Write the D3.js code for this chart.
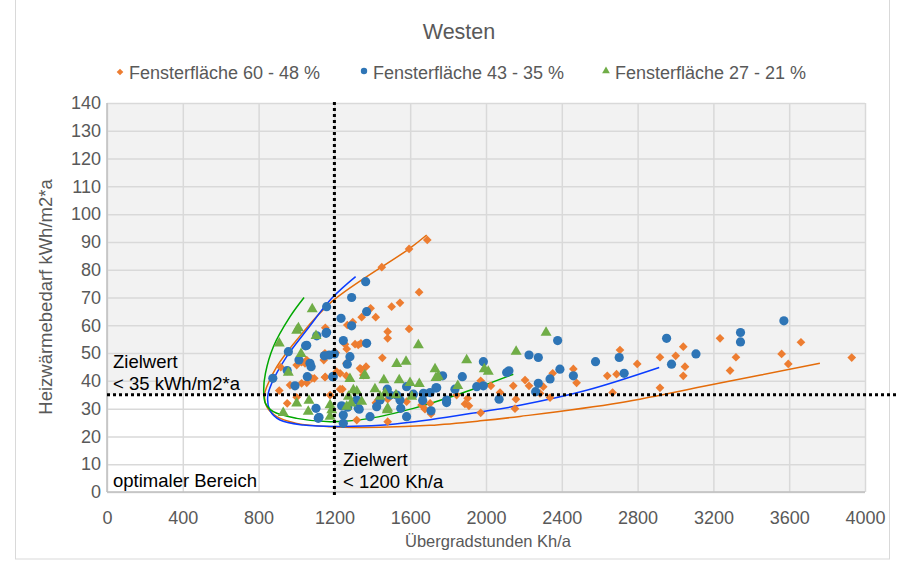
<!DOCTYPE html>
<html>
<head>
<meta charset="utf-8">
<script src="https://d3js.org/d3.v7.min.js"></script>
<title>Westen</title>
<style>
body { margin: 0; background: #fff; }
svg { display: block; font-family: "Liberation Sans", Arial, sans-serif; }
</style>
</head>
<body>
<svg width="903" height="566"></svg>
<script>

// Fensterfläche 60 - 48 %  [Übergradstunden, Heizwärmebedarf]
let orangeData = [
  [1690,90.7],[1594,87.5],[1450,80.9],[1647,71.9],[1502,66.7],[1546,68.1],[1391,66.1],
  [1418,62.9],[1344,62.9],[1297,61.1],[1268,60.1],[1152,59.1],[1481,57.7],[1481,55.3],
  [1594,58.7],[1326,52.9],[1340,53.5],[1265,51.5],[1207,50.1],[1144,47.5],[1453,48.3],
  [1340,44.2],[1367,45.1],[1263,41.8],[1152,41.4],[1054,47.5],[1078,45.1],[1001,45.7],
  [1027,46.7],[1080,40.9],[917,44.9],[966,38.5],[1027,39.1],[1054,39.3],[909,36.5],
  [1001,34.1],[951,31.9],[1177,34.9],[1242,37],[1419,32.1],[1431,33.1],[1481,33.4],
  [1318,25.9],[1481,25.3],[1705,31.9],[1903,33.7],[1889,31.7],[1094,40.9],[1150,41.3],
  [1212,43.3],[1230,42.7],[1150,49.9],[1256,53.2],[1309,53.2],[1263,46.3],[1045,46.3],
  [1335,44.5],[1353,42.1],[1230,37],[1423,31.9],[1581,32.5],[1678,29.8],[1660,31.3],
  [1845,34.9],[1910,31],[2707,51.1],[2798,46.1],[2918,48.5],[3001,49],[3041,52.3],
  [3050,45.1],[3041,41.8],[2918,37.5],[3235,55.3],[3319,48.5],[3288,43.7],[3560,49.7],
  [3595,46.1],[3662,53.9],[3930,48.4],[2689,42.4],[2640,41.8],[2668,35.8],[2461,44.3],
  [2478,39.3],[2352,42.7],[2338,34],[2302,37.9],[2227,38.2],[2206,40.3],[2285,35.5],
  [2158,33.4],[2153,30],[2144,38.2],[2074,35.8],[2026,38.2],[1972,40],[1972,28.5],
  [1710,28.1]
];

// Fensterfläche 43 - 35 %
let blueData = [
  [1365,75.7],[1291,70],[1370,64.9],[1159,66.7],[1235,62.5],[1291,59.8],[1159,57.5],
  [1247,54.5],[1370,53.5],[1054,52.8],[1107,56.2],[1147,49],[1172,49.3],[1282,48.7],
  [1268,46],[1013,47.5],[1071,46.3],[1077,45.1],[957,50.5],[951,43.7],[875,40.9],
  [1057,41.5],[992,38.2],[1194,41.5],[1479,37],[1493,34.9],[1529,34.9],[1546,33.1],
  [1581,37.9],[1617,35.2],[1670,35.5],[1705,35.8],[1666,32.9],[1740,37.5],[1771,41.8],
  [1792,33.1],[1875,41.5],[1951,37.9],[1441,33.1],[1423,30.7],[1326,30.1],[1238,31],
  [1247,27.7],[1318,33.1],[1388,27.1],[1550,30.1],[1581,27.1],[1247,24.7],[1115,26.5],
  [1103,30.1],[1048,52.6],[1156,57.1],[1200,49.7],[1191,41.5],[1119,26.9],[1270,30.5],
  [1331,29.8],[3572,61.6],[3343,57.4],[3343,54],[2953,55.3],[3108,49.7],[2979,46],
  [2703,48.4],[2729,42.7],[2578,46.9],[2378,54.5],[2390,44.2],[2461,41.8],[2338,40.7],
  [2276,48.4],[2227,49.3],[2276,39.1],[2262,36.1],[2121,43.6],[2109,43],[2069,33.4],
  [1986,46.9],[1986,38.2],[1792,32.2],[1736,37.5],[1710,29.2],[1836,37]
];

// Fensterfläche 27 - 21 %
let greenData = [
  [1083,65.8],[1001,58.1],[1010,59],[1103,56.2],[909,53.5],[1024,49.7],[957,43],
  [1643,52.9],[1529,46.1],[1578,46.9],[1358,41.8],[1282,40.7],[1461,40.3],[1542,40.3],
  [1599,39.3],[1648,38.9],[1731,44.2],[1748,41.5],[1898,47.5],[1851,38.2],[1414,37],
  [1300,36.7],[1318,36.2],[1274,34.3],[1288,31.9],[1265,30.7],[1344,32.5],[1177,31.3],
  [1186,29.5],[1066,32.9],[1062,28.9],[1001,31.9],[930,28.5],[1441,34.3],[1467,35.5],
  [1608,34.3],[1479,29.5],[2317,57.4],[2159,50.5],[1991,44.2],[2012,43.3],[1736,41.1],
  [1525,34.9],[1481,30.1],[1177,27.1],[1361,42.1]
];

// hand drawn trend curves
let orangeTrend = [
  [1687,92.5],[1594,87.5],[1186,68.5],[1001,54.7],[896,45.1],[843,37.9],[831,34.9],
  [843,30.7],[896,27.1],[1001,24.7],[1177,23.5],[1441,23.3],[1705,24.0],[1969,25.6],
  [2179,27.2],[2707,32.1],[3235,39.2],[3762,46.3]
];
let blueTrend = [
  [1312,77.5],[1186,69.7],[1054,58.3],[948,48.7],[869,39.1],[848,34.3],[859,29.5],
  [913,25.9],[1036,24.1],[1230,23.6],[1441,24.0],[1705,26.0],[1969,28.8],[2179,31.2],
  [2531,36.6],[2914,44.8]
];
let greenTrend = [
  [1040,70],[966,63.1],[878,52.3],[836,42.7],[827,36.7],[836,31.9],[878,28.9],
  [1001,26.5],[1177,25.3],[1388,26.5],[1617,30.1],[1845,34.9],[1969,37.9],[2144,42.4]
];

let xTicks = d3.range(0, 4001, 400);
let yTicks = d3.range(0, 141, 10);
let legendNames = ["Fensterfläche 60 - 48 %", "Fensterfläche 43 - 35 %", "Fensterfläche 27 - 21 %"];

let zielX = 1200;
let zielY = 35;

let svg = d3.select("svg");
let grey = "#595959";

// outer frame of the chart
svg.append("rect")
  .attr("x", 15.5).attr("y", -2).attr("width", 874).attr("height", 561)
  .attr("fill", "none").attr("stroke", "#d9d9d9");

let x = d3.scaleLinear().domain([0, 4000]).range([107, 865]);
let y = d3.scaleLinear().domain([0, 140]).range([492, 103]);

// plot background, white in the optimal corner
svg.append("rect")
  .attr("x", x(0)).attr("y", y(140))
  .attr("width", x(4000) - x(0)).attr("height", y(0) - y(140))
  .attr("fill", "#f2f2f2");
svg.append("rect")
  .attr("x", x(0)).attr("y", y(zielY))
  .attr("width", x(zielX) - x(0)).attr("height", y(0) - y(zielY))
  .attr("fill", "#ffffff");

// gridlines
let xGrid = svg.append("g").attr("transform", "translate(0," + y(0) + ")")
  .call(d3.axisBottom(x).tickValues(xTicks).tickSize(-(y(0) - y(140))).tickFormat(""));
let yGrid = svg.append("g").attr("transform", "translate(" + x(0) + ",0)")
  .call(d3.axisLeft(y).tickValues(yTicks).tickSize(-(x(4000) - x(0))).tickFormat(""));
[xGrid, yGrid].forEach(function(g){
  g.select(".domain").remove();
  g.selectAll("line").attr("stroke", "#d9d9d9").attr("stroke-width", 1.5);
});

// axis lines
svg.append("line").attr("x1", x(0)).attr("x2", x(0)).attr("y1", y(140)).attr("y2", y(0))
  .attr("stroke", "#bfbfbf").attr("stroke-width", 1.5);
svg.append("line").attr("x1", x(0)).attr("x2", x(4000)).attr("y1", y(0)).attr("y2", y(0))
  .attr("stroke", "#bfbfbf").attr("stroke-width", 1.5);

// tick labels
let xAxis = svg.append("g").attr("transform", "translate(0," + y(0) + ")")
  .call(d3.axisBottom(x).tickValues(xTicks).tickSize(0).tickPadding(19).tickFormat(d3.format("d")));
let yAxis = svg.append("g").attr("transform", "translate(" + x(0) + ",0)")
  .call(d3.axisLeft(y).tickValues(yTicks).tickSize(0).tickPadding(6).tickFormat(d3.format("d")));
[xAxis, yAxis].forEach(function(g){
  g.select(".domain").remove();
  g.selectAll("text").attr("fill", grey).style("font-size", "18px")
    .style("font-family", "'Liberation Sans', Arial, sans-serif");
});

// trend curves
let line = d3.line()
  .x(function(d){ return x(d[0]); })
  .y(function(d){ return y(d[1]); })
  .curve(d3.curveCatmullRom.alpha(0.5));
[[orangeTrend, "#e46c0a"], [blueTrend, "#0a3cff"], [greenTrend, "#00a800"]].forEach(function(t){
  svg.append("path").attr("d", line(t[0]))
    .attr("fill", "none").attr("stroke", t[1]).attr("stroke-width", 1.5);
});

// markers
let diamond = d3.symbol().type(d3.symbolSquare).size(38);
let tri = d3.symbol().type(d3.symbolTriangle).size(52);

svg.append("g").selectAll("path").data(orangeData).enter().append("path")
  .attr("d", diamond)
  .attr("transform", function(d){ return "translate(" + x(d[0]) + "," + y(d[1]) + ") rotate(45)"; })
  .attr("fill", "#ed7d31");

svg.append("g").selectAll("circle").data(blueData).enter().append("circle")
  .attr("cx", function(d){ return x(d[0]); })
  .attr("cy", function(d){ return y(d[1]); })
  .attr("r", 4.6)
  .attr("fill", "#2e75b6");

svg.append("g").selectAll("path").data(greenData).enter().append("path")
  .attr("d", tri)
  .attr("transform", function(d){ return "translate(" + x(d[0]) + "," + y(d[1]) + ")"; })
  .attr("fill", "#70ad47");

// dotted target lines
svg.append("line")
  .attr("x1", x(zielX)).attr("x2", x(zielX)).attr("y1", y(140) - 1).attr("y2", y(0) + 3)
  .attr("stroke", "#000").attr("stroke-width", 3).attr("stroke-dasharray", "3,3");
svg.append("line")
  .attr("x1", x(0)).attr("x2", 897).attr("y1", y(zielY)).attr("y2", y(zielY))
  .attr("stroke", "#000").attr("stroke-width", 3).attr("stroke-dasharray", "3,3");

// annotations
function note(tx, ty, lines) {
  let t = svg.append("text").attr("x", tx).attr("y", ty)
    .attr("fill", "#000").style("font-size", "18.5px");
  lines.forEach(function(s, i){
    t.append("tspan").attr("x", tx).attr("dy", i == 0 ? 0 : 22).text(s);
  });
}
note(113, 368, ["Zielwert", "< 35 kWh/m2*a"]);
note(343, 466, ["Zielwert", "< 1200 Kh/a"]);
note(113, 487, ["optimaler Bereich"]);

// title
svg.append("text").attr("x", 459).attr("y", 39).attr("text-anchor", "middle")
  .attr("fill", grey).style("font-size", "21.5px").text("Westen");

// legend
let legendX = [120, 364, 606];
let lg = svg.append("g");
lg.append("path").attr("d", d3.symbol().type(d3.symbolSquare).size(22))
  .attr("transform", "translate(" + legendX[0] + ",72) rotate(45)").attr("fill", "#ed7d31");
lg.append("circle").attr("cx", legendX[1]).attr("cy", 71).attr("r", 3.2).attr("fill", "#2e75b6");
lg.append("path").attr("d", d3.symbol().type(d3.symbolTriangle).size(26))
  .attr("transform", "translate(" + legendX[2] + ",71)").attr("fill", "#70ad47");
legendNames.forEach(function(n, i){
  lg.append("text").attr("x", legendX[i] + 9).attr("y", 78.5)
    .attr("fill", grey).style("font-size", "18px").text(n);
});

// axis titles
svg.append("text").attr("x", 488).attr("y", 547).attr("text-anchor", "middle")
  .attr("fill", grey).style("font-size", "16.5px").text("Übergradstunden Kh/a");
svg.append("text").attr("transform", "translate(52,297) rotate(-90)").attr("text-anchor", "middle")
  .attr("fill", grey).style("font-size", "18.5px").text("Heizwärmebedarf kWh/m2*a");

</script>
</body>
</html>
